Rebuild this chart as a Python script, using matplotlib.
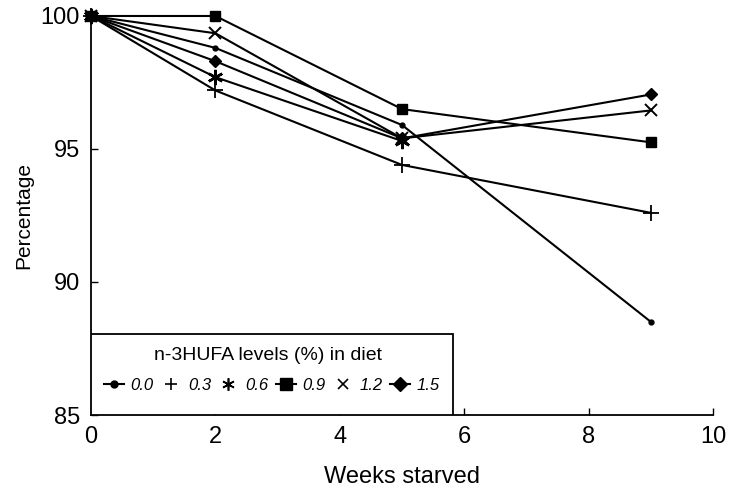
import matplotlib
matplotlib.use("Agg")
import matplotlib.pyplot as plt
from matplotlib.lines import Line2D
from matplotlib.patches import Rectangle

plt.rcParams['font.family'] = ['Liberation Sans', 'DejaVu Sans']

weeks = [0, 2, 5, 9]
weeks_06 = [0, 2, 5]
s00 = [100, 98.8, 95.9, 88.5]
s03 = [100, 97.2, 94.4, 92.6]
s06 = [100, 97.7, 95.3]
s09 = [100, 100, 96.5, 95.25]
s12 = [100, 99.35, 95.4, 96.45]
s15 = [100, 98.3, 95.4, 97.05]
labels = ['0.0', '0.3', '0.6', '0.9', '1.2', '1.5']

fig = plt.figure(figsize=(7.38, 4.92), dpi=100)
ax = fig.add_axes([0.1233, 0.1565, 0.843, 0.811])

kw = dict(color='black', lw=1.5, clip_on=False)
ax.plot(weeks, s00, marker='o', ms=3.5, **kw)
ax.plot(weeks, s03, marker='+', ms=11, mew=1.3, **kw)
ax.plot(weeks_06, s06, marker=(6, 2, 0), ms=11, mew=1.8, **kw)
ax.plot(weeks, s09, marker='s', ms=7, **kw)
ax.plot(weeks, s12, marker='x', ms=9, mew=1.4, **kw)
ax.plot(weeks, s15, marker='D', ms=6, **kw)

ax.set_xlim(0, 10)
ax.set_ylim(85, 100)
ax.set_xticks([0, 2, 4, 6, 8, 10])
ax.set_yticks([85, 90, 95, 100])
ax.tick_params(direction='in', length=5, labelsize=17, width=1, pad=8)
for s in ['top', 'right']:
    ax.spines[s].set_visible(False)
for s in ['left', 'bottom']:
    ax.spines[s].set_linewidth(1.3)

ax.set_xlabel('Weeks starved', fontsize=17, labelpad=13)
ax.set_ylabel('Percentage', fontsize=15, labelpad=5)

# legend box
bw, bh = 0.582, 0.203
ax.add_patch(Rectangle((0, 0), bw, bh, transform=ax.transAxes, fill=True,
                       facecolor='white', edgecolor='black', lw=1.3, zorder=5))
ax.text(0.285, 0.15, 'n-3HUFA levels (%) in diet', transform=ax.transAxes,
        ha='center', va='center', fontsize=14, zorder=6)

handles = [
    Line2D([], [], color='black', lw=1.5, marker='o', ms=5),
    Line2D([], [], color='black', ls='none', marker='+', ms=9, mew=1.2),
    Line2D([], [], color='black', ls='none', marker=(6, 2, 0), ms=9, mew=1.2),
    Line2D([], [], color='black', lw=1.5, marker='s', ms=8),
    Line2D([], [], color='black', ls='none', marker='x', ms=7, mew=1.2),
    Line2D([], [], color='black', lw=1.5, marker='D', ms=7),
]
leg = ax.legend(handles, labels, ncol=6, loc='center',
                bbox_to_anchor=(0.291, 0.075), frameon=False,
                prop={'size': 12, 'style': 'italic'},
                handlelength=1.2, handletextpad=0.4, columnspacing=0.45,
                borderpad=0)
leg.set_zorder(7)

fig.savefig('out.png', dpi=100)
